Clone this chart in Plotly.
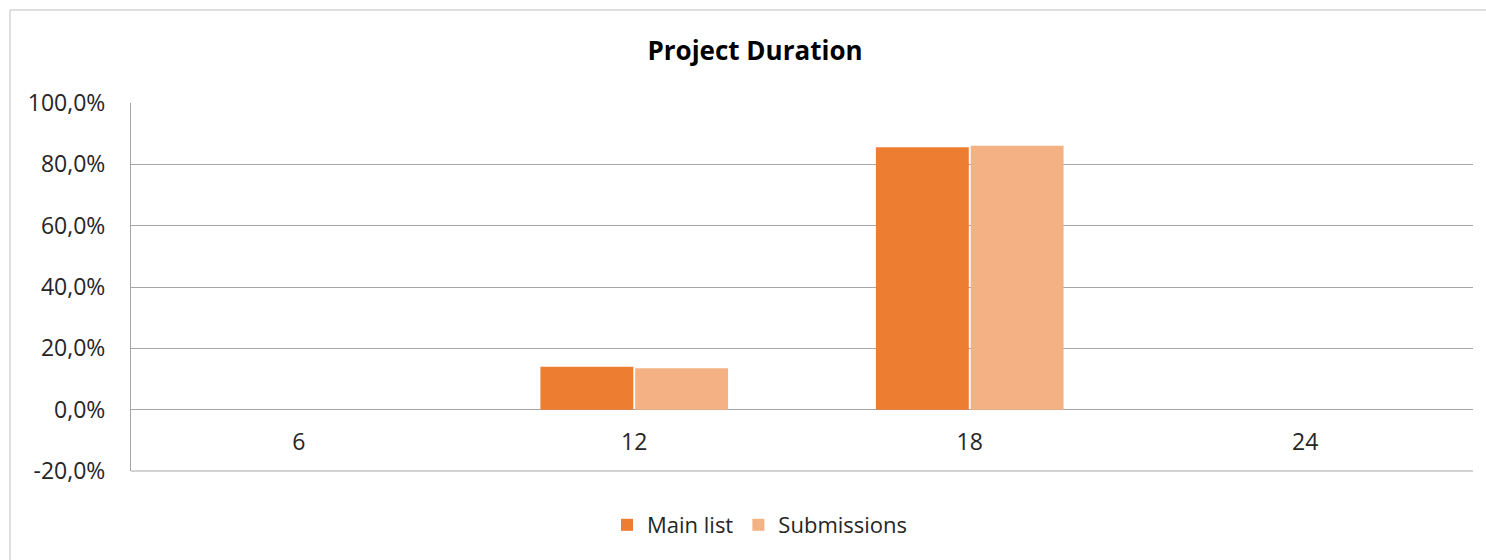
import plotly.graph_objs as go

# Project duration (months) and share of projects
durations = ["6", "12", "18", "24"]
main_list = [0.0, 0.140, 0.856, 0.0]
submissions = [0.0, 0.135, 0.861, 0.0]

# y axis ticks as shown in the chart (comma decimals, plain hyphen)
y_ticks = [-0.2, 0.0, 0.2, 0.4, 0.6, 0.8, 1.0]
y_tick_text = ["-20,0%", "0,0%", "20,0%", "40,0%", "60,0%", "80,0%", "100,0%"]

W, H = 1486, 560
L, R, T, B = 131, 13, 103, 89
plot_w = W - L - R
plot_h = H - T - B

fig = go.Figure()

fig.add_trace(go.Bar(
    x=durations,
    y=main_list,
    name='Main list',
    marker=dict(color='#ED7D31', line=dict(width=0)),
))

fig.add_trace(go.Bar(
    x=durations,
    y=submissions,
    name='Submissions',
    marker=dict(color='#F4B183', line=dict(width=0)),
))

# category axis crosses the value axis at 0
y_min, y_max = -0.2, 1.0
zero_pos = (0 - y_min) / (y_max - y_min)

# outer chart frame: only top and left edges are inside the picture
frame_left = (10 - L) / plot_w
frame_top = ((H - B) - 10) / plot_h
frame_right = (W - L) / plot_w
frame_bottom = -(H - (H - B)) / plot_h

fig.update_layout(
    width=W,
    height=H,
    margin=dict(l=L, r=R, t=T, b=B),
    paper_bgcolor='white',
    plot_bgcolor='white',
    font=dict(family='Open Sans, sans-serif', size=23, color='#262626'),
    title=dict(
        text='<b>Project Duration</b>',
        x=(755 - L) / plot_w, xref='paper', xanchor='center',
        y=(H - 51) / H, yanchor='middle',
        font=dict(size=26, color='#000000'),
    ),
    barmode='group',
    bargap=0.435,
    bargroupgap=0.02,
    showlegend=True,
    legend=dict(
        orientation='h',
        x=(760 - L) / plot_w, xanchor='center',
        y=-(525 - (H - B)) / plot_h, yanchor='middle',
        font=dict(size=22, color='#262626'),
        itemwidth=30,
        traceorder='normal',
    ),
    xaxis=dict(
        anchor='free',
        position=zero_pos,
        showline=False,
        showgrid=False,
        ticks='',
        ticklabelstandoff=16,
        tickfont=dict(size=23, color='#262626'),
    ),
    yaxis=dict(
        range=[y_min, y_max],
        tickvals=y_ticks,
        ticktext=y_tick_text,
        showgrid=True,
        gridcolor='#A6A6A6',
        gridwidth=1,
        zeroline=False,
        showline=True,
        linecolor='#A6A6A6',
        linewidth=1,
        ticks='',
        ticklabelstandoff=20,
        tickfont=dict(size=23, color='#262626'),
    ),
    shapes=[
        # bottom gridline at -20%
        dict(type='line', xref='paper', yref='paper',
             x0=0, x1=1, y0=0, y1=0,
             line=dict(color='#A6A6A6', width=1)),
        # frame top edge
        dict(type='line', xref='paper', yref='paper',
             x0=frame_left, x1=frame_right, y0=frame_top, y1=frame_top,
             line=dict(color='#BFBFBF', width=1), layer='below'),
        # frame left edge
        dict(type='line', xref='paper', yref='paper',
             x0=frame_left, x1=frame_left, y0=frame_bottom, y1=frame_top,
             line=dict(color='#BFBFBF', width=1), layer='below'),
    ],
)

fig.write_html(
    "out.html",
    config={'displayModeBar': False},
    post_script="document.body.style.margin='0';",
)
